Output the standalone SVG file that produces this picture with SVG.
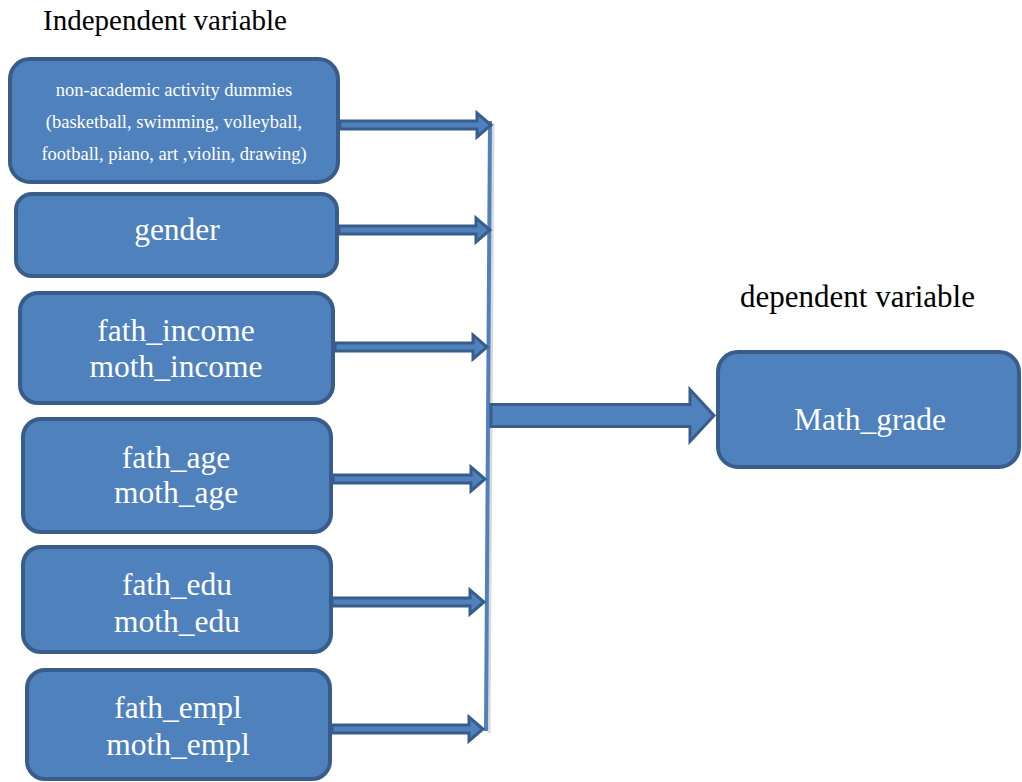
<svg xmlns="http://www.w3.org/2000/svg" width="1022" height="782" viewBox="0 0 1022 782">
<style>
.box{fill:#4F81BD;stroke:#385D8A;stroke-width:4}
.t{font-family:'Liberation Serif','DejaVu Serif',serif;fill:#FFFFFF;text-anchor:middle}
.big{font-size:31.5px}
.small{font-size:18.5px}
.lbl{font-family:'Liberation Serif','DejaVu Serif',serif;fill:#000000}
.arr{fill:#4F81BD;stroke:#385D8A;stroke-width:3;stroke-linejoin:miter}
</style>
<rect width="1022" height="782" fill="#FFFFFF"/>
<text class="lbl" x="43" y="30" font-size="29">Independent variable</text>
<text class="lbl" x="740" y="307" font-size="31">dependent variable</text>

<g id="connectors">
  <line x1="493" y1="123" x2="489" y2="733" stroke="#D9D9D9" stroke-width="3"/>
  <line x1="490" y1="121" x2="486" y2="731" stroke="#4F81BD" stroke-width="4"/>
  <path class="arr" d="M340,121 L477,121 L477,113 L491,125 L477,137 L477,129 L340,129 Z"/>
  <path class="arr" d="M339,226 L476,226 L476,218 L490,230 L476,242 L476,234 L339,234 Z"/>
  <path class="arr" d="M335,343 L473,343 L473,335 L487,347 L473,359 L473,351 L335,351 Z"/>
  <path class="arr" d="M333,475 L471,475 L471,467 L485,479 L471,491 L471,483 L333,483 Z"/>
  <path class="arr" d="M332,598 L470,598 L470,590 L484,602 L470,614 L470,606 L332,606 Z"/>
  <path class="arr" d="M332,725 L469,725 L469,717 L483,729 L469,741 L469,733 L332,733 Z"/>
  <path class="arr" d="M491,404.5 L690,404.5 L690,389.5 L714,415.5 L690,441.5 L690,426.5 L491,426.5 Z"/>
</g>

<g id="node-activities">
  <rect class="box" x="10" y="59" width="328" height="123" rx="20"/>
  <text class="t small" x="174" y="96">non-academic activity dummies</text>
  <text class="t small" x="174" y="128">(basketball, swimming, volleyball,</text>
  <text class="t small" x="174" y="160">football, piano, art ,violin, drawing)</text>
</g>
<g id="node-gender">
  <rect class="box" x="16" y="194" width="321" height="82" rx="16"/>
  <text class="t big" x="177" y="240">gender</text>
</g>
<g id="node-income">
  <rect class="box" x="20" y="293" width="313" height="110" rx="18"/>
  <text class="t big" x="176" y="341">fath_income</text>
  <text class="t big" x="176" y="377">moth_income</text>
</g>
<g id="node-age">
  <rect class="box" x="23" y="419" width="308" height="113" rx="18"/>
  <text class="t big" x="176" y="468">fath_age</text>
  <text class="t big" x="176" y="503">moth_age</text>
</g>
<g id="node-edu">
  <rect class="box" x="23" y="547" width="308" height="105" rx="18"/>
  <text class="t big" x="177" y="595">fath_edu</text>
  <text class="t big" x="177" y="632">moth_edu</text>
</g>
<g id="node-empl">
  <rect class="box" x="27" y="670" width="303" height="109" rx="18"/>
  <text class="t big" x="178" y="718">fath_empl</text>
  <text class="t big" x="178" y="755">moth_empl</text>
</g>
<g id="node-math">
  <rect class="box" x="718" y="352" width="301" height="115" rx="20"/>
  <text class="t big" x="870" y="430">Math_grade</text>
</g>
</svg>
